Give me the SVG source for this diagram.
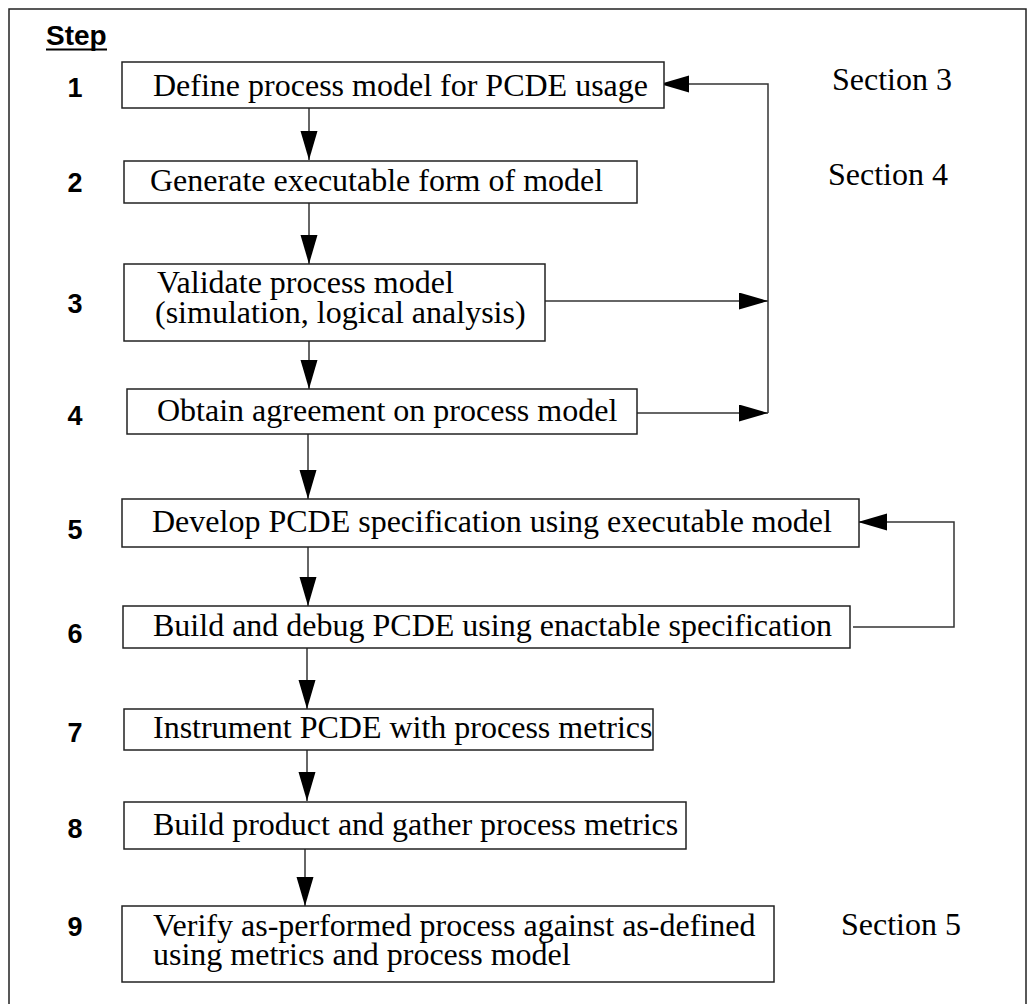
<svg xmlns="http://www.w3.org/2000/svg" width="1036" height="1004" viewBox="0 0 1036 1004">
<defs>
<style>
.box{fill:#fff;stroke:#222;stroke-width:1.5}
.t{font-family:"Liberation Serif","Times New Roman",serif;font-size:32px;fill:#000}
.n{font-family:"Liberation Sans",Arial,sans-serif;font-size:27px;font-weight:bold;fill:#000;text-anchor:middle}
.c{fill:none;stroke:#333;stroke-width:1.5}
</style>
<marker id="ah" markerUnits="userSpaceOnUse" markerWidth="30" markerHeight="18" refX="29" refY="8.5" orient="auto">
<path d="M0,0 L29,8.5 L0,17 Z" fill="#000"/>
</marker>
</defs>
<rect x="0" y="0" width="1036" height="1004" fill="#fff"/>
<rect x="9" y="9" width="1017" height="1010" fill="none" stroke="#222" stroke-width="1.5"/>
<g id="header">
<text x="46" y="45" class="n" style="text-anchor:start;font-size:28px">Step</text>
<line x1="46" y1="49.5" x2="107" y2="49.5" stroke="#000" stroke-width="2"/>
</g>
<g id="connectors">
<line class="c" x1="309" y1="108" x2="309" y2="160" marker-end="url(#ah)"/>
<line class="c" x1="309" y1="203" x2="309" y2="264" marker-end="url(#ah)"/>
<line class="c" x1="309" y1="341" x2="309" y2="389" marker-end="url(#ah)"/>
<line class="c" x1="308" y1="434" x2="308" y2="499" marker-end="url(#ah)"/>
<line class="c" x1="308" y1="547" x2="308" y2="606" marker-end="url(#ah)"/>
<line class="c" x1="307" y1="648" x2="307" y2="709" marker-end="url(#ah)"/>
<line class="c" x1="307" y1="750" x2="307" y2="801" marker-end="url(#ah)"/>
<line class="c" x1="305" y1="849" x2="305" y2="906" marker-end="url(#ah)"/>
<line class="c" x1="545" y1="301" x2="768" y2="301" marker-end="url(#ah)"/>
<line class="c" x1="637" y1="413" x2="768" y2="413" marker-end="url(#ah)"/>
<polyline class="c" points="768,413 768,84 660,84" marker-end="url(#ah)"/>
<polyline class="c" points="853,627 954,627 954,522 858,522" marker-end="url(#ah)"/>
</g>
<g id="step1">
<rect class="box" x="122" y="62" width="542" height="46"/>
<text class="t" x="153" y="95.5">Define process model for PCDE usage</text>
<text class="n" x="75" y="97">1</text>
</g>
<g id="step2">
<rect class="box" x="124" y="161" width="513" height="42"/>
<text class="t" x="150" y="191">Generate executable form of model</text>
<text class="n" x="75" y="192">2</text>
</g>
<g id="step3">
<rect class="box" x="124" y="264" width="421" height="77"/>
<text class="t" x="157" y="293">Validate process model</text>
<text class="t" x="155" y="323">(simulation, logical analysis)</text>
<text class="n" x="75" y="313">3</text>
</g>
<g id="step4">
<rect class="box" x="127" y="389" width="510" height="45"/>
<text class="t" x="157" y="420.5">Obtain agreement on process model</text>
<text class="n" x="75" y="425">4</text>
</g>
<g id="step5">
<rect class="box" x="122" y="499" width="737" height="48"/>
<text class="t" x="152" y="532">Develop PCDE specification using executable model</text>
<text class="n" x="75" y="539">5</text>
</g>
<g id="step6">
<rect class="box" x="123" y="606" width="727" height="42"/>
<text class="t" x="153" y="636">Build and debug PCDE using enactable specification</text>
<text class="n" x="75" y="643">6</text>
</g>
<g id="step7">
<rect class="box" x="124" y="709" width="529" height="41"/>
<text class="t" x="153" y="738">Instrument PCDE with process metrics</text>
<text class="n" x="75" y="742">7</text>
</g>
<g id="step8">
<rect class="box" x="124" y="802" width="562" height="47"/>
<text class="t" x="153" y="835">Build product and gather process metrics</text>
<text class="n" x="75" y="838">8</text>
</g>
<g id="step9">
<rect class="box" x="122" y="906" width="652" height="76"/>
<text class="t" x="153" y="936">Verify as-performed process against as-defined</text>
<text class="t" x="153" y="965">using metrics and process model</text>
<text class="n" x="75" y="936">9</text>
</g>
<g id="sections">
<text class="t" x="832" y="90">Section 3</text>
<text class="t" x="828" y="185">Section 4</text>
<text class="t" x="841" y="935">Section 5</text>
</g>
</svg>
